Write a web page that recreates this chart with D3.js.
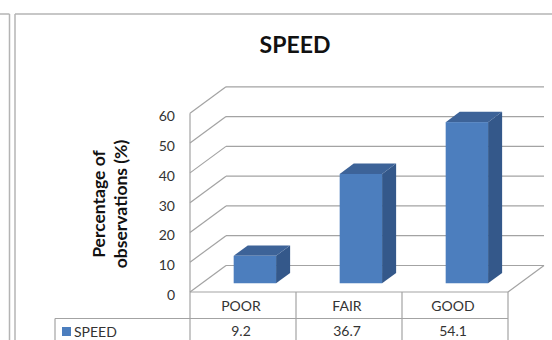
<!DOCTYPE html>
<html>
<head>
<meta charset="utf-8">
<script src="https://cdn.jsdelivr.net/npm/d3@7"></script>
<style>
  html, body { margin: 0; padding: 0; background: #fff; }
  svg { display: block; }
  text { font-family: Lato, "Open Sans", sans-serif; }
</style>
</head>
<body>
<svg id="chart" width="552" height="340"></svg>
<script>
// Speed ratings, percentage of observations
const categories = ["POOR", "FAIR", "GOOD"];
const seriesName = "SPEED";
const values = [9.2, 36.7, 54.1];
const yTicks = [0, 10, 20, 30, 40, 50, 60];

const svg = d3.select("#chart");

// frames of the panel and its neighbour on the left
svg.append("line").attr("x1", 9.5).attr("x2", 9.5).attr("y1", 14).attr("y2", 340)
  .attr("stroke", "#b4b4b4").attr("stroke-width", 1.5);
svg.append("line").attr("x1", 0).attr("x2", 9.5).attr("y1", 14).attr("y2", 14)
  .attr("stroke", "#b4b4b4").attr("stroke-width", 1.5);
svg.append("line").attr("x1", 15).attr("x2", 15).attr("y1", 14).attr("y2", 340)
  .attr("stroke", "#b4b4b4").attr("stroke-width", 1.5);
svg.append("line").attr("x1", 15).attr("x2", 552).attr("y1", 14).attr("y2", 14)
  .attr("stroke", "#b4b4b4").attr("stroke-width", 1.5);

// title
svg.append("text").attr("x", 295).attr("y", 53)
  .attr("text-anchor", "middle").attr("font-size", 23).attr("font-weight", "bold")
  .attr("fill", "#111").text("SPEED");

// 3-D geometry: front plane scales plus an oblique depth offset
const DX = 36, DY = 26.5;
const x = d3.scaleBand().domain(categories).range([190, 508]).padding(0);
const y = d3.scaleLinear().domain([0, 60]).range([292, 113.3]);
const gridColor = "#a3a3a3";

const g = svg.append("g");

// side wall grid lines (front corner to back corner)
g.selectAll("line.side").data(yTicks).join("line").attr("class", "side")
  .attr("x1", 190).attr("y1", d => y(d))
  .attr("x2", 190 + DX).attr("y2", d => y(d) - DY)
  .attr("stroke", gridColor).attr("stroke-width", 1.2);

// back wall grid lines
g.selectAll("line.back").data(yTicks).join("line").attr("class", "back")
  .attr("x1", 190 + DX).attr("y1", d => y(d) - DY)
  .attr("x2", 508 + DX).attr("y2", d => y(d) - DY)
  .attr("stroke", gridColor).attr("stroke-width", 1.2);

// floor right edge and front edge
g.append("line").attr("x1", 508).attr("y1", y(0)).attr("x2", 508 + DX).attr("y2", y(0) - DY)
  .attr("stroke", gridColor).attr("stroke-width", 1.2);
g.append("line").attr("x1", 190).attr("y1", y(0)).attr("x2", 508).attr("y2", y(0))
  .attr("stroke", gridColor).attr("stroke-width", 1.2);

// vertical axis line, continuing as the table's edge
g.append("line").attr("x1", 190).attr("y1", y(60)).attr("x2", 190).attr("y2", 340)
  .attr("stroke", gridColor).attr("stroke-width", 1.2);

// tick labels
g.selectAll("text.tick").data(yTicks).join("text").attr("class", "tick")
  .attr("x", 175).attr("y", d => y(d) + 8)
  .attr("text-anchor", "end").attr("font-size", 14).attr("fill", "#333")
  .text(d => d);

// y-axis title
const yt = svg.append("text").attr("transform", "translate(105,204) rotate(-90)")
  .attr("text-anchor", "middle").attr("font-size", 17.5).attr("font-weight", "bold").attr("fill", "#111");
yt.append("tspan").attr("x", 0).attr("dy", 0).text("Percentage of");
yt.append("tspan").attr("x", 0).attr("dy", 22).text("observations (%)");

// bars as boxes between two depths
const d1 = 0.33, d2 = 0.72;
const barW = x.bandwidth() * 0.4;
const bars = g.selectAll("g.bar").data(values).join("g").attr("class", "bar");
function barGeom(v, i) {
  const x0 = x(categories[i]) + x.bandwidth() / 2 - barW / 2 + d1 * DX;
  const x1 = x0 + barW;
  const yb = y(0) - d1 * DY;
  const yt = y(v) - d1 * DY;
  const ox = (d2 - d1) * DX, oy = (d2 - d1) * DY;
  return { x0, x1, yb, yt, ox, oy };
}
bars.append("path").attr("fill", "#34588a")
  .attr("d", (v, i) => {
    const b = barGeom(v, i);
    return `M${b.x1},${b.yt}L${b.x1 + b.ox},${b.yt - b.oy}L${b.x1 + b.ox},${b.yb - b.oy}L${b.x1},${b.yb}Z`;
  });
bars.append("path").attr("fill", "#3d6398")
  .attr("d", (v, i) => {
    const b = barGeom(v, i);
    return `M${b.x0},${b.yt}L${b.x0 + b.ox},${b.yt - b.oy}L${b.x1 + b.ox},${b.yt - b.oy}L${b.x1},${b.yt}Z`;
  });
bars.append("rect").attr("fill", "#4c7ebe")
  .attr("x", (v, i) => barGeom(v, i).x0)
  .attr("y", (v, i) => barGeom(v, i).yt)
  .attr("width", barW)
  .attr("height", (v, i) => { const b = barGeom(v, i); return b.yb - b.yt; });

// data table below the plot
const tableColor = "#a3a3a3";
svg.append("line").attr("x1", 55).attr("x2", 508).attr("y1", 318.5).attr("y2", 318.5)
  .attr("stroke", tableColor).attr("stroke-width", 1.2);
svg.append("line").attr("x1", 55).attr("x2", 55).attr("y1", 318.5).attr("y2", 340)
  .attr("stroke", tableColor).attr("stroke-width", 1.2);
svg.selectAll("line.col").data(categories).join("line").attr("class", "col")
  .attr("x1", d => x(d) + x.bandwidth()).attr("x2", d => x(d) + x.bandwidth())
  .attr("y1", y(0)).attr("y2", 340)
  .attr("stroke", tableColor).attr("stroke-width", 1.2);

svg.selectAll("text.cat").data(categories).join("text").attr("class", "cat")
  .attr("x", d => x(d) + x.bandwidth() / 2 - 2).attr("y", 311)
  .attr("text-anchor", "middle").attr("font-size", 14).attr("fill", "#333")
  .text(d => d);
svg.selectAll("text.val").data(values).join("text").attr("class", "val")
  .attr("x", (v, i) => x(categories[i]) + x.bandwidth() / 2 - 2).attr("y", 336)
  .attr("text-anchor", "middle").attr("font-size", 14).attr("fill", "#333")
  .text(d => d.toFixed(1));

// legend key inside the table
svg.append("rect").attr("x", 62).attr("y", 327).attr("width", 9).attr("height", 9).attr("fill", "#4c7ebe");
svg.append("text").attr("x", 74).attr("y", 336.5).attr("font-size", 14).attr("fill", "#333").text(seriesName);
</script>
</body>
</html>
